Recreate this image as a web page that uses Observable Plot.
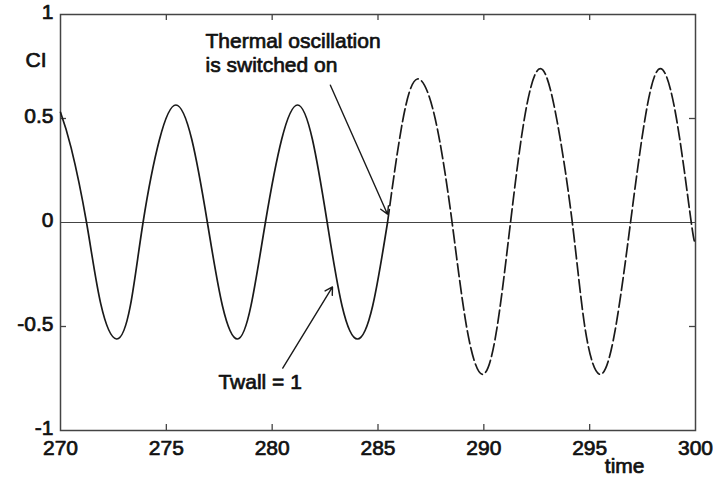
<!DOCTYPE html>
<html>
<head>
<meta charset="utf-8">
<script src="https://cdn.jsdelivr.net/npm/d3@7"></script>
<script src="https://cdn.jsdelivr.net/npm/@observablehq/plot@0.6"></script>
<style>
  html, body { margin: 0; padding: 0; background: #fff; }
</style>
</head>
<body>
<div id="chart"></div>
<script>
// Before switch-on (Twall = 1): solid line
const time1 = [270, 270.5, 271.23, 271.9, 272.65, 273.3, 273.9, 274.68, 275.45, 276.2, 276.94, 277.65, 278.36, 279.0, 279.68, 280.45, 281.2, 281.9, 282.6, 283.3, 284.03, 284.75, 285.45];
const ci1   = [0.53, 0.36, 0, -0.39, -0.56, -0.40, 0, 0.40, 0.565, 0.40, 0, -0.40, -0.56, -0.40, 0, 0.40, 0.565, 0.40, 0, -0.40, -0.56, -0.40, 0];
// After thermal oscillation is switched on: dashed line
const time2 = [285.45, 286.15, 286.86, 287.7, 288.5, 289.2, 289.93, 290.6, 291.26, 291.95, 292.67, 293.4, 294.18, 294.8, 295.5, 296.2, 296.93, 297.65, 298.34, 299.1, 299.8, 300];
const ci2   = [0, 0.48, 0.69, 0.50, 0, -0.51, -0.73, -0.52, 0, 0.52, 0.74, 0.52, 0, -0.52, -0.73, -0.52, 0, 0.52, 0.74, 0.50, 0, -0.09];

const xTicks = [270, 275, 280, 285, 290, 295, 300];
const xTickLabels = ["270", "275", "280", "285", "290", "295", "300"];
const yTicks = [-1, -0.5, 0, 0.5, 1];
const yTickLabels = ["-1", "-0.5", "0", "0.5", "1"];
const innerXTicks = [275, 280, 285, 290, 295];
const innerYTicks = [-0.5, 0.5];

const noteText = ["Thermal oscillation\nis switched on", "Twall = 1"];
const noteX = [276.85, 277.46];
const noteY = [0.817, -0.765];
const arrowX1 = [282.75, 280.5];
const arrowY1 = [0.66, -0.70];
const arrowX2 = [285.45, 282.85];
const arrowY2 = [0.04, -0.31];

const seg1 = time1.map((t, i) => ({t, c: ci1[i]}));
const seg2 = time2.map((t, i) => ({t, c: ci2[i]}));
const notes = noteText.map((s, i) => ({s, x: noteX[i], y: noteY[i]}));
const arrows = arrowX1.map((x1, i) => ({x1, y1: arrowY1[i], x2: arrowX2[i], y2: arrowY2[i]}));

const W = 713, H = 479, mL = 60, mR = 18, mT = 14, mB = 49;
const frameW = W - mL - mR, frameH = H - mT - mB;
const tick = 6;
const ink = "#111";
const heavy = {fill: ink, stroke: ink, strokeWidth: 0.7, fontSize: 21};

const chart = Plot.plot({
  width: W, height: H,
  marginLeft: mL, marginRight: mR, marginTop: mT, marginBottom: mB,
  x: {domain: [270, 300], axis: null},
  y: {domain: [-1, 1], axis: null},
  style: {fontFamily: "'Liberation Sans', Arial, sans-serif", background: "#fff", color: ink},
  marks: [
    Plot.ruleY([0], {stroke: "#444", strokeWidth: 1.2}),
    Plot.tickX(innerXTicks, {x: d => d, insetTop: frameH - tick, stroke: "#444", strokeWidth: 1.3}),
    Plot.tickX(innerXTicks, {x: d => d, insetBottom: frameH - tick, stroke: "#444", strokeWidth: 1.3}),
    Plot.tickY(innerYTicks, {y: d => d, insetRight: frameW - tick, stroke: "#444", strokeWidth: 1.3}),
    Plot.tickY(innerYTicks, {y: d => d, insetLeft: frameW - tick, stroke: "#444", strokeWidth: 1.3}),
    Plot.frame({stroke: "#444", strokeWidth: 1.5}),
    Plot.text(xTicks, {x: d => d, text: (d, i) => xTickLabels[i], frameAnchor: "bottom", lineAnchor: "middle", dy: 18, ...heavy}),
    Plot.text(yTicks, {y: d => d, text: (d, i) => yTickLabels[i], frameAnchor: "left", textAnchor: "end", lineAnchor: "middle", dx: -7, dy: -2, ...heavy}),
    Plot.line(seg1, {x: "t", y: "c", curve: "natural", stroke: "#1a1a1a", strokeWidth: 1.7}),
    Plot.line(seg2, {x: "t", y: "c", curve: "natural", stroke: "#1a1a1a", strokeWidth: 1.7, strokeDasharray: "13,4"}),
    Plot.arrow(arrows, {x1: "x1", y1: "y1", x2: "x2", y2: "y2", stroke: "#1a1a1a", strokeWidth: 1.4, headLength: 9}),
    Plot.text(notes, {x: "x", y: "y", text: "s", textAnchor: "start", lineAnchor: "middle", lineHeight: 1.15, ...heavy}),
    Plot.text(["CI"], {frameAnchor: "top-left", lineAnchor: "middle", dx: -35, dy: 46, textAnchor: "start", ...heavy}),
    Plot.text(["time"], {frameAnchor: "bottom-right", lineAnchor: "middle", dx: -51, dy: 36, ...heavy})
  ]
});
document.getElementById("chart").appendChild(chart);
</script>
</body>
</html>
